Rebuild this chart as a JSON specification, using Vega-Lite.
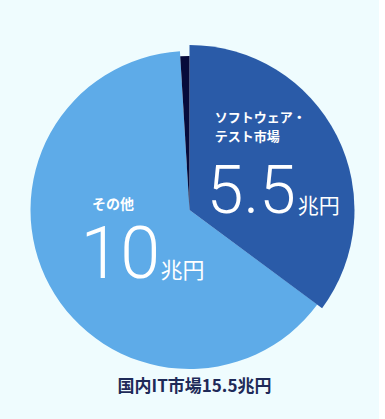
{
  "$schema": "https://vega.github.io/schema/vega-lite/v6.json",
  "width": 379,
  "height": 420,
  "padding": 0,
  "autosize": {"type": "none"},
  "background": "#effcfe",
  "config": {"view": {"stroke": null}},
  "title": {
    "text": "国内IT市場15.5兆円",
    "orient": "bottom",
    "anchor": "middle",
    "offset": -41,
    "dx": 5,
    "font": "Noto Sans CJK JP",
    "fontSize": 17,
    "fontWeight": "bold",
    "color": "#1e2a58"
  },
  "data": {
    "values": [
      {"cat": "soft", "value": 5.5, "ord": 1, "name": "ソフトウェア・\nテスト市場", "num": "5.5", "unit": "兆円"},
      {"cat": "other", "value": 10, "ord": 2, "name": "その他", "num": "10", "unit": "兆円"},
      {"cat": "misc", "value": 0.15, "ord": 3, "name": "", "num": "", "unit": ""}
    ]
  },
  "encoding": {
    "theta": {"field": "value", "type": "quantitative", "stack": true},
    "order": {"field": "ord", "type": "quantitative"}
  },
  "layer": [
    {
      "mark": {"type": "arc", "radius": 159, "stroke": null},
      "encoding": {
        "color": {"field": "cat", "type": "nominal", "legend": null,
          "scale": {"domain": ["soft", "other", "misc"], "range": ["#2a5ba8", "#5eabe8", "#070b3a"]}},
        "opacity": {"condition": {"test": "datum.cat === 'other'", "value": 1}, "value": 0}
      }
    },
    {
      "mark": {"type": "arc", "radius": 165, "stroke": null},
      "encoding": {
        "color": {"field": "cat", "type": "nominal", "legend": null},
        "opacity": {"condition": {"test": "datum.cat === 'soft'", "value": 1}, "value": 0}
      }
    },
    {
      "mark": {"type": "arc", "radius": 154, "stroke": null},
      "encoding": {
        "color": {"field": "cat", "type": "nominal", "legend": null},
        "opacity": {"condition": {"test": "datum.cat === 'misc'", "value": 1}, "value": 0}
      }
    },
    {
      "mark": {"type": "text", "radius": 90, "align": "left", "baseline": "top", "dx": -55, "dy": -58, "lineBreak": "\n", "lineHeight": 19, "font": "Noto Sans CJK JP", "fontSize": 13, "fontWeight": "bold", "color": "white"},
      "encoding": {"text": {"condition": {"test": "datum.cat === 'soft'", "field": "name"}, "value": ""}}
    },
    {
      "mark": {"type": "text", "radius": 90, "align": "left", "baseline": "alphabetic", "dx": -63, "dy": 43.5, "font": "Roboto", "fontSize": 66, "fontWeight": 300, "color": "white"},
      "encoding": {"text": {"condition": {"test": "datum.cat === 'soft'", "field": "num"}, "value": ""}}
    },
    {
      "mark": {"type": "text", "radius": 90, "align": "left", "baseline": "alphabetic", "dx": 28, "dy": 43.5, "font": "Noto Sans CJK JP", "fontSize": 21, "color": "white"},
      "encoding": {"text": {"condition": {"test": "datum.cat === 'soft'", "field": "unit"}, "value": ""}}
    },
    {
      "mark": {"type": "text", "radius": 90, "align": "left", "baseline": "alphabetic", "dx": -18.4, "dy": -44, "font": "Noto Sans CJK JP", "fontSize": 14, "fontWeight": "bold", "color": "white"},
      "encoding": {"text": {"condition": {"test": "datum.cat === 'other'", "field": "name"}, "value": ""}}
    },
    {
      "mark": {"type": "text", "radius": 90, "align": "left", "baseline": "alphabetic", "dx": -30, "dy": 25, "font": "Roboto", "fontSize": 72, "fontWeight": 300, "color": "white"},
      "encoding": {"text": {"condition": {"test": "datum.cat === 'other'", "field": "num"}, "value": ""}}
    },
    {
      "mark": {"type": "text", "radius": 90, "align": "left", "baseline": "alphabetic", "dx": 50, "dy": 25, "font": "Noto Sans CJK JP", "fontSize": 22, "color": "white"},
      "encoding": {"text": {"condition": {"test": "datum.cat === 'other'", "field": "unit"}, "value": ""}}
    }
  ]
}
